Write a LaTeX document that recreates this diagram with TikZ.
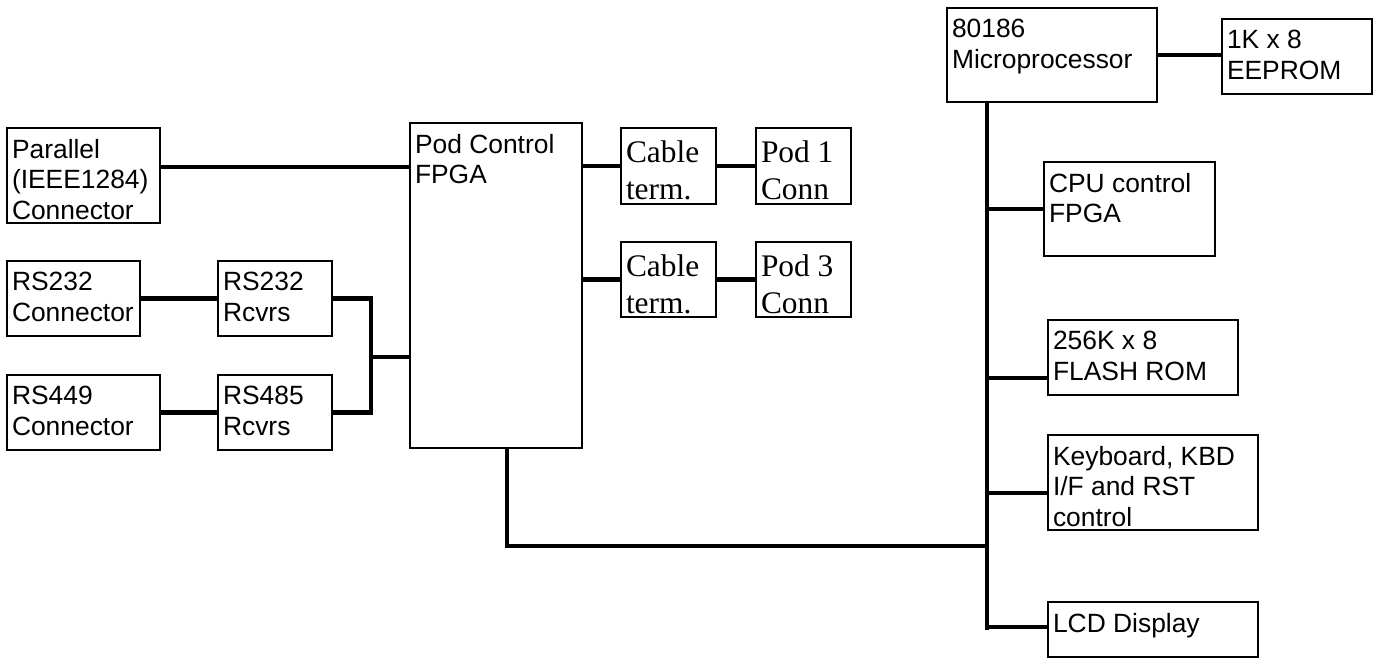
\documentclass[tikz,border=0pt]{standalone}
\usepackage{fontspec}
\newfontfamily\arialfont{Liberation Sans}
\newfontfamily\timesfont{Liberation Serif}
\usetikzlibrary{positioning}
\newcommand{\tb}[3]{\parbox[t][\dimexpr#2-12pt\relax][t]{\dimexpr#1-6pt\relax}{\raggedright#3}}
\newcommand{\ts}[3]{\parbox[t][\dimexpr#2-14pt\relax][t]{\dimexpr#1-6pt\relax}{\raggedright#3}}
\tikzset{
  blk/.style={draw=black,line width=1pt,anchor=north west,inner xsep=2.5pt,inner ysep=5.5pt,outer sep=0pt,font=\arialfont\fontsize{13.2}{15.3}\selectfont},
  serifblk/.style={blk,inner ysep=6.5pt,font=\timesfont\fontsize{15.7}{18.3}\selectfont},
  bus/.style={line width=2.4pt},
}

\begin{document}
\begin{tikzpicture}[x=0.5pt,y=-0.5pt]
			\useasboundingbox (0,0) rectangle (1375,660);
			% interfaces
			\node[blk] (par) at (7,128) {\tb{77.5pt}{48.5pt}{Parallel\\(IEEE1284)\\Connector}};
			\node[blk] (rs232c) at (7,261) {\tb{67.5pt}{38.5pt}{RS232\\Connector}};
			\node[blk] (rs232r) at (218,261) {\tb{58pt}{38.5pt}{RS232\\Rcvrs}};
			\node[blk] (rs449c) at (7,375) {\tb{77.5pt}{38.5pt}{RS449\\Connector}};
			\node[blk] (rs485r) at (218,375) {\tb{58pt}{38.5pt}{RS485\\Rcvrs}};
			\node[blk] (fpga) at (410,123) {\tb{87pt}{163.5pt}{Pod Control\\FPGA}};
			% pods
			\node[serifblk] (cab1) at (621,128) {\ts{48.5pt}{39pt}{Cable\\term.}};
			\node[serifblk] (pod1) at (756,128) {\ts{48.5pt}{39pt}{Pod 1\\Conn}};
			\node[serifblk] (cab2) at (621,242) {\ts{48.5pt}{38.5pt}{Cable\\term.}};
			\node[serifblk] (pod3) at (756,242) {\ts{48.5pt}{38.5pt}{Pod 3\\Conn}};
			% cpu side
			\node[blk] (cpu) at (947,8) {\tb{106pt}{48pt}{80186\\Microprocessor}};
			\node[blk] (eeprom) at (1222,19) {\tb{76pt}{38.5pt}{1K x 8\\EEPROM}};
			\node[blk] (cpuctl) at (1044,162) {\tb{86.5pt}{48pt}{CPU control\\FPGA}};
			\node[blk] (flash) at (1048,320) {\tb{96pt}{38.5pt}{256K x 8\\FLASH ROM}};
			\node[blk] (kbd) at (1048,435) {\tb{106pt}{48.5pt}{Keyboard, KBD\\I/F and RST\\control}};
			\node[blk] (lcd) at (1048,602) {\tb{106pt}{28.5pt}{LCD Display}};
			% links
			\draw[bus] (par.east |- 0,167) -- (fpga.west |- 0,167);
			\draw[bus] (rs232c.east) -- (rs232r.west);
			\draw[bus] (rs449c.east) -- (rs485r.west);
			\coordinate (join) at (371,357);
			\draw[bus] (rs232r.east) -| (join) |- (rs485r.east);
			\draw[bus] (join) -- (fpga.west |- join);
			\draw[bus] (fpga.east |- cab1.west) -- (cab1.west);
			\draw[bus] (cab1.east) -- (pod1.west);
			\draw[bus] (fpga.east |- cab2.west) -- (cab2.west);
			\draw[bus] (cab2.east) -- (pod3.west);
			\draw[bus] (cpu.east) -- (eeprom.west |- cpu.east);
			\coordinate (busend) at (987,630);
			\draw[bus] (cpu.south -| busend) -- (busend);
			\draw[bus] (busend |- 0,209) -- (cpuctl.west |- 0,209);
			\draw[bus] (busend |- 0,378) -- (flash.west |- 0,378);
			\draw[bus] (busend |- 0,493) -- (kbd.west |- 0,493);
			\draw[bus] (busend |- 0,627) -- (lcd.west |- 0,627);
			\draw[bus] (fpga.south -| 507,0) |- (busend |- 0,546);
		\end{tikzpicture}
\end{document}
